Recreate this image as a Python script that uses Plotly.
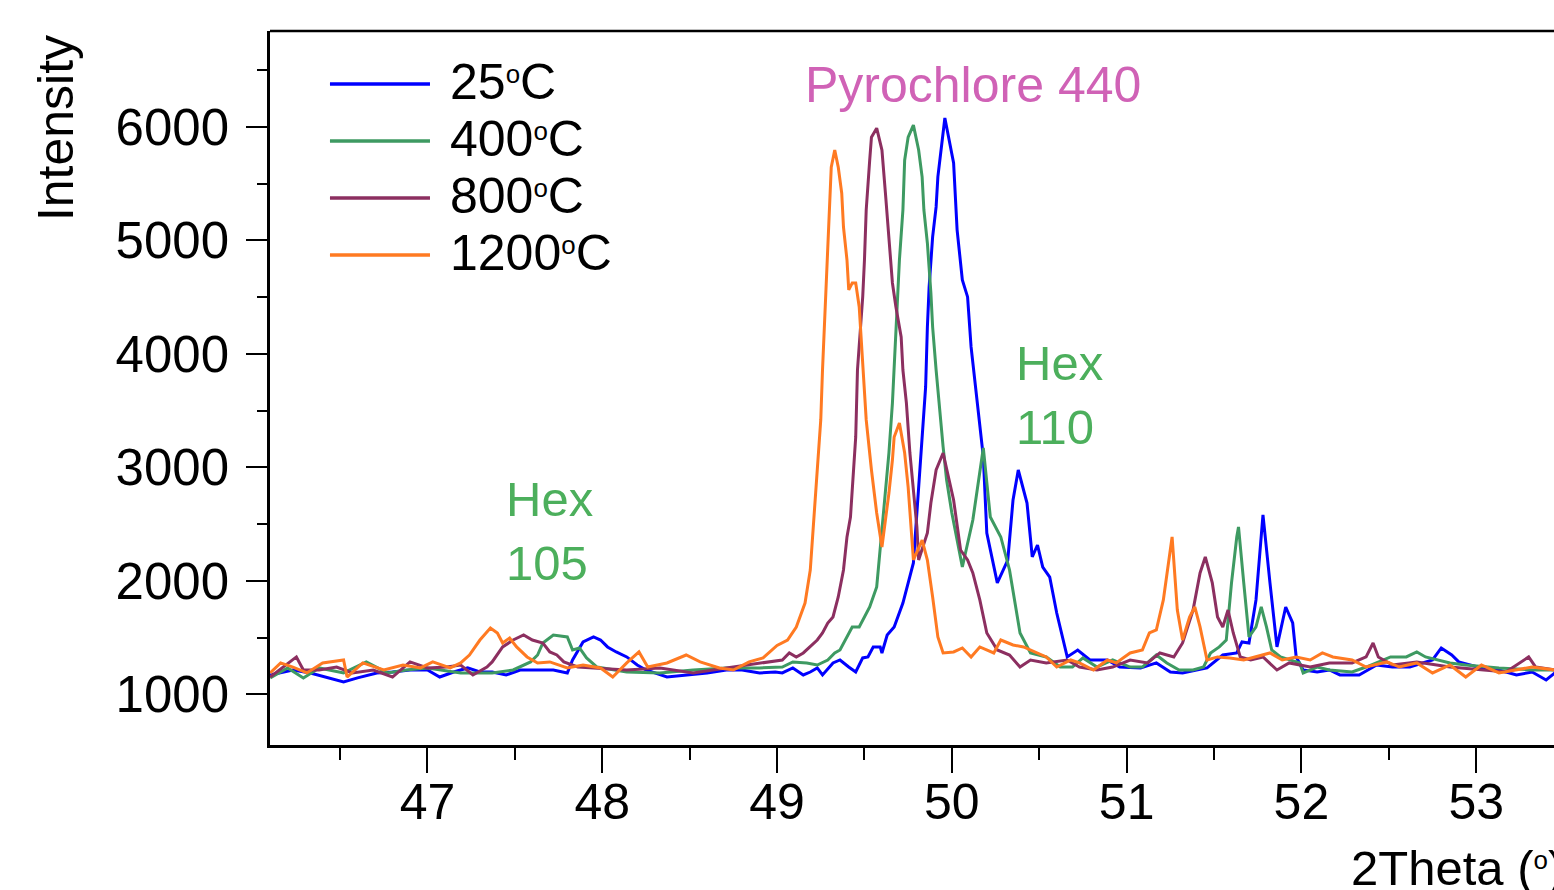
import plotly.graph_objects as go

# ---------------- data ----------------
x_25 = [46.10, 46.23, 46.33, 46.43, 46.52, 46.60, 46.71, 46.80, 46.90, 47.00, 47.07, 47.15, 47.23, 47.30,
        47.37, 47.45, 47.53, 47.63, 47.72, 47.80, 47.83, 47.89, 47.95, 47.99, 48.03, 48.08, 48.14, 48.20,
        48.25, 48.37, 48.48, 48.60, 48.71, 48.80, 48.90, 48.99, 49.03, 49.09, 49.15, 49.19, 49.23, 49.26,
        49.32, 49.36, 49.41, 49.45, 49.49, 49.52, 49.55, 49.59, 49.60, 49.63, 49.67, 49.72, 49.78, 49.81,
        49.83, 49.85, 49.86, 49.87, 49.89, 49.91, 49.92, 49.96, 50.01, 50.03, 50.06, 50.09, 50.11, 50.15,
        50.18, 50.20, 50.26, 50.32, 50.35, 50.38, 50.43, 50.46, 50.49, 50.52, 50.56, 50.60, 50.66, 50.72,
        50.79, 50.89, 50.96, 51.08, 51.17, 51.25, 51.32, 51.40, 51.46, 51.55, 51.63, 51.66, 51.70, 51.74,
        51.78, 51.82, 51.86, 51.91, 51.95, 51.97, 52.01, 52.09, 52.16, 52.22, 52.33, 52.43, 52.52, 52.62,
        52.75, 52.80, 52.86, 52.90, 53.03, 53.13, 53.23, 53.32, 53.40, 53.45]
y_25 = [1170, 1214, 1188, 1144, 1108, 1144, 1188, 1196, 1214, 1214, 1152, 1196, 1232, 1196,
        1196, 1170, 1214, 1214, 1214, 1188, 1302, 1461, 1505, 1478, 1417, 1373, 1329, 1258,
        1214, 1152, 1170, 1188, 1214, 1214, 1188, 1196, 1188, 1232, 1170, 1196, 1232, 1170,
        1276, 1302, 1240, 1196, 1320, 1329, 1417, 1417, 1364, 1522, 1593, 1804, 2157, 2826,
        3329, 3708, 4236, 4589, 5030, 5294, 5559, 6077, 5682, 5092, 4651, 4501, 4060, 3478,
        3091, 2421, 1981, 2183, 2712, 2976, 2685, 2210, 2315, 2121, 2033, 1716, 1329, 1390,
        1302, 1302, 1240, 1232, 1276, 1196, 1188, 1214, 1232, 1346, 1364, 1461, 1452, 1831,
        2580, 1981, 1417, 1769, 1628, 1329, 1214, 1196, 1214, 1170, 1170, 1258, 1240, 1240,
        1302, 1408, 1346, 1285, 1232, 1214, 1170, 1196, 1126, 1188]

x_400 = [46.10, 46.20, 46.29, 46.38, 46.52, 46.65, 46.77, 46.88, 47.00, 47.19, 47.37, 47.49, 47.59, 47.63,
         47.66, 47.72, 47.80, 47.83, 47.87, 47.91, 47.97, 48.08, 48.14, 48.33, 48.52, 48.71, 48.90, 49.03,
         49.09, 49.17, 49.23, 49.29, 49.33, 49.36, 49.40, 49.43, 49.47, 49.53, 49.57, 49.59, 49.62, 49.64,
         49.66, 49.68, 49.70, 49.72, 49.73, 49.75, 49.78, 49.81, 49.83, 49.84, 49.86, 49.88, 49.89, 49.91,
         49.93, 49.95, 49.97, 50.00, 50.03, 50.06, 50.12, 50.18, 50.22, 50.28, 50.33, 50.39, 50.45, 50.54,
         50.62, 50.69, 50.75, 50.83, 50.92, 51.02, 51.09, 51.17, 51.23, 51.30, 51.38, 51.44, 51.48, 51.53,
         51.57, 51.60, 51.63, 51.64, 51.67, 51.70, 51.74, 51.77, 51.80, 51.83, 51.88, 51.93, 51.99, 52.01,
         52.09, 52.16, 52.29, 52.37, 52.51, 52.60, 52.66, 52.71, 52.85, 52.94, 53.13, 53.32, 53.45]
y_400 = [1144, 1232, 1144, 1232, 1188, 1285, 1188, 1214, 1232, 1188, 1188, 1214, 1285, 1346,
         1452, 1522, 1505, 1390, 1408, 1320, 1240, 1214, 1196, 1188, 1214, 1232, 1232, 1240,
         1285, 1276, 1258, 1302, 1364, 1390, 1505, 1593, 1593, 1769, 1945, 2271, 2826, 3126,
         3566, 4236, 4826, 5267, 5706, 5909, 6015, 5795, 5557, 5267, 4976, 4536, 4236, 3857,
         3478, 3179, 2888, 2597, 2359, 2121, 2535, 3170, 2562, 2386, 2095, 1540, 1364, 1329,
         1240, 1240, 1320, 1240, 1302, 1240, 1240, 1346, 1276, 1214, 1214, 1240, 1364, 1417,
         1478, 1981, 2386, 2474, 1981, 1505, 1593, 1769, 1593, 1390, 1329, 1302, 1276, 1188,
         1240, 1214, 1196, 1240, 1329, 1329, 1373, 1329, 1276, 1258, 1232, 1214, 1214]

x_800 = [46.10, 46.17, 46.25, 46.29, 46.38, 46.48, 46.57, 46.69, 46.80, 46.90, 47.00, 47.11, 47.19, 47.26,
         47.34, 47.37, 47.43, 47.49, 47.55, 47.60, 47.66, 47.70, 47.74, 47.78, 47.86, 47.95, 48.14, 48.33,
         48.52, 48.71, 48.90, 49.03, 49.07, 49.11, 49.15, 49.19, 49.23, 49.26, 49.29, 49.32, 49.35, 49.38,
         49.40, 49.42, 49.45, 49.46, 49.48, 49.49, 49.50, 49.51, 49.53, 49.54, 49.57, 49.60, 49.62, 49.64,
         49.66, 49.68, 49.71, 49.72, 49.74, 49.76, 49.78, 49.80, 49.81, 49.86, 49.88, 49.91, 49.95, 49.98,
         50.01, 50.05, 50.09, 50.12, 50.16, 50.20, 50.26, 50.33, 50.39, 50.45, 50.54, 50.66, 50.73, 50.83,
         50.92, 51.02, 51.12, 51.19, 51.27, 51.32, 51.38, 51.42, 51.45, 51.49, 51.52, 51.55, 51.58, 51.61,
         51.65, 51.71, 51.78, 51.86, 51.93, 52.05, 52.16, 52.29, 52.37, 52.41, 52.44, 52.52, 52.66, 52.85,
         53.03, 53.17, 53.30, 53.34, 53.45]
y_800 = [1152, 1232, 1329, 1214, 1214, 1240, 1188, 1214, 1152, 1285, 1232, 1240, 1258, 1170,
         1240, 1285, 1417, 1478, 1522, 1478, 1452, 1373, 1346, 1285, 1240, 1232, 1214, 1232,
         1188, 1232, 1276, 1302, 1364, 1329, 1364, 1417, 1478, 1540, 1628, 1681, 1857, 2095,
         2386, 2562, 3267, 3857, 4298, 4501, 4826, 5267, 5706, 5909, 5988, 5795, 5415, 4974,
         4624, 4412, 4148, 3857, 3566, 3126, 2826, 2474, 2183, 2421, 2685, 2976, 3126, 2915,
         2712, 2271, 2183, 2069, 1831, 1540, 1390, 1346, 1240, 1302, 1276, 1302, 1240, 1214,
         1240, 1302, 1276, 1364, 1329, 1452, 1742, 2069, 2210, 1981, 1681, 1593, 1742, 1540,
         1329, 1302, 1329, 1214, 1276, 1240, 1276, 1276, 1329, 1452, 1329, 1258, 1285, 1240,
         1214, 1196, 1329, 1240, 1214]

x_1200 = [46.10, 46.16, 46.23, 46.31, 46.40, 46.52, 46.54, 46.63, 46.75, 46.86, 46.96, 47.03, 47.13, 47.19,
          47.24, 47.30, 47.36, 47.40, 47.43, 47.47, 47.51, 47.57, 47.63, 47.70, 47.80, 47.89, 47.99, 48.06,
          48.14, 48.21, 48.26, 48.37, 48.48, 48.56, 48.67, 48.75, 48.84, 48.92, 49.00, 49.06, 49.11, 49.16,
          49.19, 49.21, 49.23, 49.25, 49.26, 49.27, 49.28, 49.29, 49.30, 49.31, 49.33, 49.35, 49.37, 49.38,
          49.40, 49.41, 49.43, 49.45, 49.47, 49.49, 49.51, 49.54, 49.57, 49.60, 49.64, 49.66, 49.67, 49.70,
          49.73, 49.75, 49.78, 49.83, 49.86, 49.89, 49.92, 49.95, 50.01, 50.06, 50.11, 50.16, 50.24, 50.28,
          50.35, 50.41, 50.49, 50.54, 50.60, 50.68, 50.73, 50.81, 50.89, 50.94, 51.02, 51.09, 51.13, 51.17,
          51.21, 51.26, 51.29, 51.32, 51.36, 51.39, 51.42, 51.46, 51.52, 51.59, 51.67, 51.74, 51.82, 51.89,
          51.97, 52.05, 52.12, 52.18, 52.29, 52.37, 52.49, 52.56, 52.66, 52.75, 52.85, 52.94, 53.03, 53.13,
          53.23, 53.32, 53.45]
y_1200 = [1188, 1276, 1240, 1188, 1276, 1302, 1152, 1276, 1214, 1258, 1232, 1285, 1232, 1276,
          1346, 1478, 1584, 1540, 1452, 1496, 1417, 1329, 1276, 1285, 1232, 1258, 1232, 1152,
          1276, 1373, 1240, 1276, 1346, 1285, 1232, 1214, 1285, 1320, 1430, 1478, 1593, 1804,
          2095, 2536, 2976, 3417, 3857, 4236, 4536, 4974, 5415, 5645, 5795, 5645, 5415, 5117,
          4826, 4563, 4624, 4624, 4412, 3857, 3417, 2976, 2597, 2298, 2773, 3064, 3267, 3390,
          3126, 2826, 2183, 2359, 2183, 1857, 1505, 1364, 1373, 1408, 1329, 1417, 1364, 1478,
          1434, 1417, 1364, 1329, 1240, 1302, 1276, 1214, 1302, 1276, 1364, 1390, 1540, 1567,
          1831, 2386, 1742, 1478, 1681, 1769, 1593, 1302, 1329, 1320, 1302, 1329, 1364, 1302,
          1329, 1302, 1364, 1329, 1302, 1240, 1285, 1240, 1276, 1188, 1258, 1152, 1258, 1188,
          1214, 1240, 1214]

DEG = '<span style="font-size:37px"><sup>o</sup></span>'
series_names = ["25" + DEG + "C", "400" + DEG + "C", "800" + DEG + "C", "1200" + DEG + "C"]
series_x = [x_25, x_400, x_800, x_1200]
series_y = [y_25, y_400, y_800, y_1200]
series_colors = ["#0000FF", "#3E9A62", "#8C2F60", "#FF7A22"]

y_ticks = [1000, 2000, 3000, 4000, 5000, 6000]
x_ticks = [47, 48, 49, 50, 51, 52, 53]

FONT = "Liberation Sans, Arial, sans-serif"

fig = go.Figure()
for name, xs, ys, col in zip(series_names, series_x, series_y, series_colors):
    fig.add_trace(go.Scatter(x=xs, y=ys, mode="lines", name=name,
                             line=dict(color=col, width=3), showlegend=False))

# manual legend (line samples + labels)
leg_y = [0.9258, 0.8459, 0.7661, 0.6863]
for name, col, yy in zip(series_names, series_colors, leg_y):
    fig.add_shape(type="line", xref="paper", yref="paper", x0=0.0467, x1=0.1246, y0=yy, y1=yy,
                  line=dict(color=col, width=3.5))
    fig.add_annotation(xref="paper", yref="paper", x=0.139, y=yy, yshift=2, text=name, showarrow=False,
                       xanchor="left", yanchor="middle", font=dict(family=FONT, size=50, color="black"))

# top frame line
fig.add_shape(type="line", xref="paper", yref="paper", x0=0, x1=1, y0=1, y1=1,
              line=dict(color="black", width=2.5))

# peak labels
fig.add_annotation(x=50.12, y=6368, text="Pyrochlore 440", showarrow=False, xanchor="center",
                   yanchor="middle", font=dict(family=FONT, size=50, color="#D062B6"))
fig.add_annotation(x=50.355, y=3637, text="Hex<br>110", showarrow=False, xanchor="left", align="left",
                   yanchor="middle", font=dict(family=FONT, size=49, color="#4CAF5C"))
fig.add_annotation(x=47.435, y=2439, text="Hex<br>105", showarrow=False, xanchor="left", align="left",
                   yanchor="middle", font=dict(family=FONT, size=49, color="#4CAF5C"))

# axis titles as annotations
fig.add_annotation(xref="paper", yref="paper", x=0, xshift=-214, y=0.864, text="Intensity",
                   textangle=-90, showarrow=False, xanchor="center", yanchor="middle",
                   font=dict(family=FONT, size=50, color="black"))
fig.add_annotation(xref="paper", yref="paper", x=0.8405, y=-0.172, text="2Theta (" + DEG + ")",
                   showarrow=False, xanchor="left", yanchor="middle",
                   font=dict(family=FONT, size=49, color="black"))

fig.update_xaxes(range=[46.099, 53.445], tickvals=x_ticks, ticktext=[str(v) for v in x_ticks],
                 showline=True, linecolor="black", linewidth=2.5, showgrid=False, zeroline=False,
                 ticks="outside", ticklen=25, tickwidth=2, tickcolor="black", ticklabelstandoff=-14,
                 minor=dict(dtick=0.5, tick0=46.5, ticks="outside", ticklen=12, tickwidth=2, tickcolor="black"),
                 tickfont=dict(family=FONT, size=50, color="black"))
fig.update_yaxes(range=[553, 6844], tickvals=y_ticks, ticktext=[str(v) for v in y_ticks],
                 showline=True, linecolor="black", linewidth=2.5, showgrid=False, zeroline=False,
                 ticks="outside", ticklen=21, tickwidth=2, tickcolor="black", ticklabelstandoff=7,
                 minor=dict(dtick=500, tick0=500, ticks="outside", ticklen=10, tickwidth=2, tickcolor="black"),
                 tickfont=dict(family=FONT, size=51, color="black"))

fig.update_layout(width=1554, height=890, margin=dict(l=270, r=0, t=31, b=145),
                  paper_bgcolor="white", plot_bgcolor="white", showlegend=False)

fig.write_html("out.html")
